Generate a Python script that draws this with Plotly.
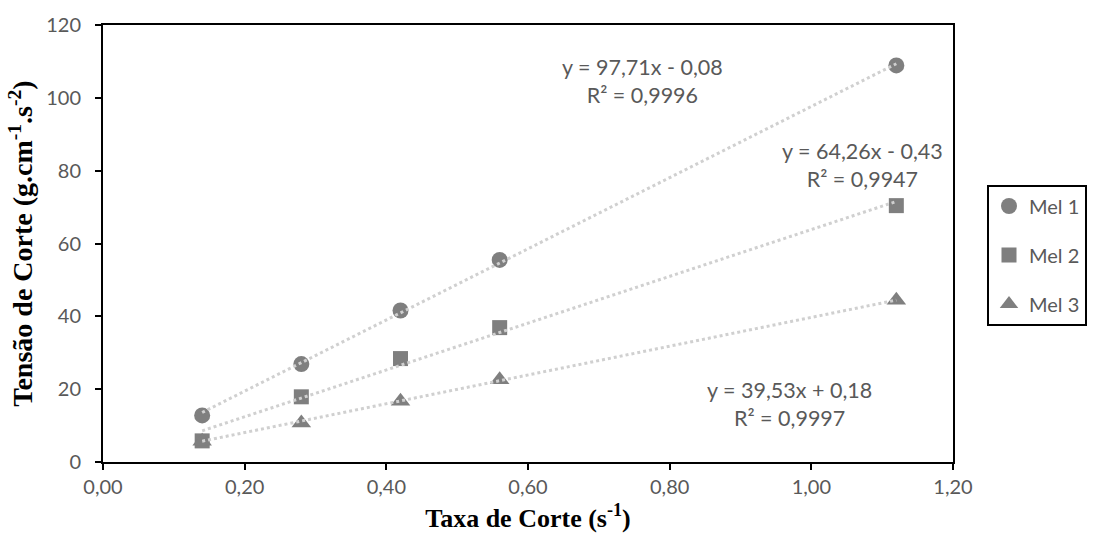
import plotly.graph_objects as go

# Shear rate (s^-1) and shear stress readings for each honey sample
taxa = [0.14, 0.28, 0.42, 0.56, 1.12]
mel1 = [12.8, 26.9, 41.6, 55.5, 108.9]
mel2 = [5.8, 17.9, 28.4, 36.9, 70.4]
mel3 = [5.7, 10.7, 16.7, 22.6, 44.4]

nomes = ["Mel 1", "Mel 2", "Mel 3"]
series = [mel1, mel2, mel3]
simbolos = ["circle", "square", "triangle-up"]
tamanhos = [16, 15, 17]

# Linear fit coefficients and R² reported for each sample
inclinacao = [97.71, 64.26, 39.53]
intercepto = [-0.08, -0.43, 0.18]
r2 = ["0,9996", "0,9947", "0,9997"]
rotulos = ["y = 97,71x - 0,08", "y = 64,26x - 0,43", "y = 39,53x + 0,18"]
pos_rotulo = [(0.762, 104.5), (1.072, 81.6), (0.969, 16.0)]

cinza = "#7f7f7f"
texto = "#595959"
fonte = "Lato, Open Sans, sans-serif"
serifa = "Liberation Serif, Times New Roman, serif"

fig = go.Figure()

for nome, ys, sim, tam in zip(nomes, series, simbolos, tamanhos):
    fig.add_trace(go.Scatter(
        x=taxa, y=ys, mode="markers", name=nome,
        legendgroup=nome,
        marker=dict(symbol=sim, size=tam, color=cinza, line=dict(width=0)),
    ))

# Dotted trend lines over the data range
x0, x1 = min(taxa), max(taxa)
for a, b in zip(inclinacao, intercepto):
    fig.add_trace(go.Scatter(
        x=[x0, x1], y=[a * x0 + b, a * x1 + b], mode="lines",
        line=dict(color="#d0d0d0", width=3, dash="dot"),
        showlegend=False, hoverinfo="skip",
    ))

for (xa, ya), eq, r in zip(pos_rotulo, rotulos, r2):
    fig.add_annotation(
        x=xa, y=ya, xref="x", yref="y", showarrow=False,
        text=f"{eq}<br>R² = {r}", align="center",
        font=dict(family=fonte, size=21.5, color=texto),
    )

eixo = dict(
    showline=True, linecolor="black", linewidth=2, mirror=True,
    ticks="outside", ticklen=6, tickwidth=2, tickcolor="black",
    showgrid=False, zeroline=False,
    tickfont=dict(family=fonte, size=20, color=texto),
)

fig.update_layout(
    width=1106, height=552,
    margin=dict(l=103, r=153, t=19, b=90),
    paper_bgcolor="white", plot_bgcolor="white",
    separators=",.",
    xaxis=dict(
        range=[0, 1.2], dtick=0.2, tickformat=".2f",
        title=dict(text="<b>Taxa de Corte (s<sup>-1</sup>)</b>", standoff=12,
                   font=dict(family=serifa, size=26, color="black")),
        **eixo,
    ),
    yaxis=dict(
        range=[0, 120], dtick=20, ticklabelstandoff=10,
        title=dict(text="<b>Tensão de Corte (g.cm<sup>-1</sup>.s<sup>-2</sup>)</b>", standoff=5,
                   font=dict(family=serifa, size=28, color="black")),
        **eixo,
    ),
    legend=dict(
        x=1.04, y=0.635, xanchor="left", yanchor="top",
        bordercolor="black", borderwidth=2,
        font=dict(family=fonte, size=20, color=texto),
        tracegroupgap=20, itemwidth=30,
    ),
    showlegend=True,
)

fig.write_html("out.html")
